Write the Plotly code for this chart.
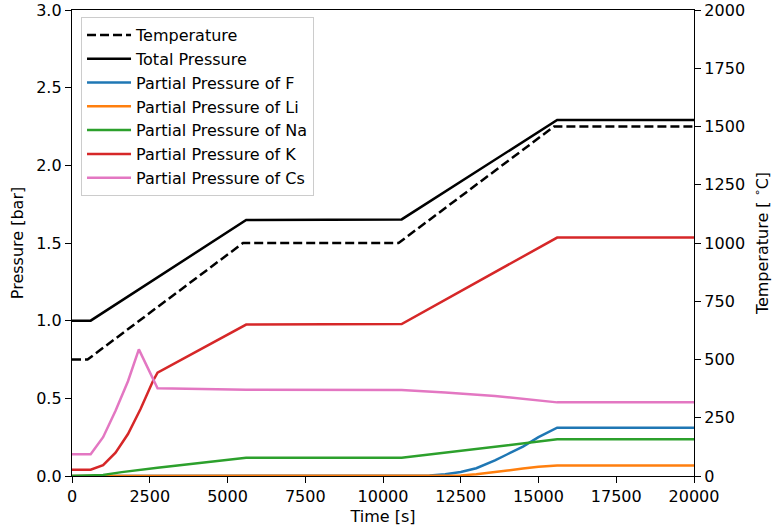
import plotly.graph_objects as go

# ---- data ----
t_temp = [0, 500, 5500, 10500, 15500, 20000]
temperature = [500, 500, 1000, 1000, 1500, 1500]

t_total = [0, 600, 5600, 10600, 15600, 20000]
total_pressure = [1.0, 1.0, 1.648, 1.652, 2.292, 2.292]

t_F = [0, 10600, 11000, 11500, 12000, 12500, 13000, 13600, 14000, 14500, 15000, 15600, 20000]
p_F = [0, 0, 0.001, 0.004, 0.012, 0.026, 0.050, 0.100, 0.140, 0.189, 0.250, 0.311, 0.311]

t_Li = [0, 12000, 12500, 13000, 13500, 14000, 14500, 15000, 15600, 20000]
p_Li = [0, 0, 0.004, 0.012, 0.022, 0.035, 0.048, 0.060, 0.068, 0.068]

t_Na = [0, 600, 1000, 1600, 2200, 2750, 5600, 10600, 15600, 20000]
p_Na = [0, 0.002, 0.007, 0.025, 0.042, 0.053, 0.117, 0.118, 0.236, 0.236]

t_K = [0, 600, 1000, 1400, 1800, 2200, 2600, 2750, 5600, 10600, 15600, 20000]
p_K = [0.04, 0.04, 0.07, 0.15, 0.27, 0.43, 0.61, 0.665, 0.975, 0.978, 1.535, 1.535]

t_Cs = [0, 600, 1000, 1400, 1800, 2150, 2750, 5600, 10600, 12000, 13600, 14700, 15600, 20000]
p_Cs = [0.14, 0.14, 0.25, 0.42, 0.61, 0.815, 0.565, 0.555, 0.553, 0.538, 0.515, 0.494, 0.474, 0.474]

series = [
    ("Partial Pressure of F", t_F, p_F, "#1f77b4"),
    ("Partial Pressure of Li", t_Li, p_Li, "#ff7f0e"),
    ("Partial Pressure of Na", t_Na, p_Na, "#2ca02c"),
    ("Partial Pressure of K", t_K, p_K, "#d62728"),
    ("Partial Pressure of Cs", t_Cs, p_Cs, "#e377c2"),
]

FONT = "DejaVu Sans"
FS = 16
LW = 2.5
fig = go.Figure()

fig.add_trace(go.Scatter(x=t_temp, y=temperature, mode="lines", name="Temperature",
                         yaxis="y2", legendrank=1,
                         line=dict(color="black", width=LW, dash="9px,4px")))
fig.add_trace(go.Scatter(x=t_total, y=total_pressure, mode="lines", name="Total Pressure",
                         legendrank=2, line=dict(color="black", width=LW)))
for i, (name, tx, py, col) in enumerate(series):
    fig.add_trace(go.Scatter(x=tx, y=py, mode="lines", name=name, legendrank=3 + i,
                             line=dict(color=col, width=LW)))

axis_common = dict(showline=True, linecolor="black", linewidth=1.3, ticks="outside",
                   ticklen=6, tickwidth=1.3, tickcolor="black", showgrid=False, zeroline=False,
                   automargin=False,
                   tickfont=dict(family=FONT, size=FS, color="black"))

fig.update_layout(
    template="none",
    width=772, height=531,
    margin=dict(l=72, r=78, t=10, b=55, autoexpand=False),
    plot_bgcolor="white", paper_bgcolor="white",
    font=dict(family=FONT, size=FS, color="black"),
    showlegend=True,
    hovermode=False,
    legend=dict(x=0.0145, y=0.985, xanchor="left", yanchor="top",
                bgcolor="rgba(255,255,255,0.8)", bordercolor="#cccccc", borderwidth=1,
                font=dict(family=FONT, size=FS, color="black"),
                itemwidth=44, traceorder="normal"),
    xaxis=dict(range=[0, 20000], dtick=2500, tick0=0, tickformat="d", mirror=True,
               title=dict(text="Time [s]", font=dict(family=FONT, size=FS), standoff=5),
               **axis_common),
    yaxis=dict(range=[0, 3], dtick=0.5, tick0=0, tickformat=".1f", mirror=True,
               title=dict(text="Pressure [bar]", font=dict(family=FONT, size=FS), standoff=8),
               **axis_common),
    yaxis2=dict(range=[0, 2000], dtick=250, tick0=0, tickformat="d", overlaying="y", side="right",
                title=dict(text="Temperature [ <sup>∘</sup>C]", font=dict(family=FONT, size=FS), standoff=13),
                **axis_common),
)

fig.write_html("out.html")
